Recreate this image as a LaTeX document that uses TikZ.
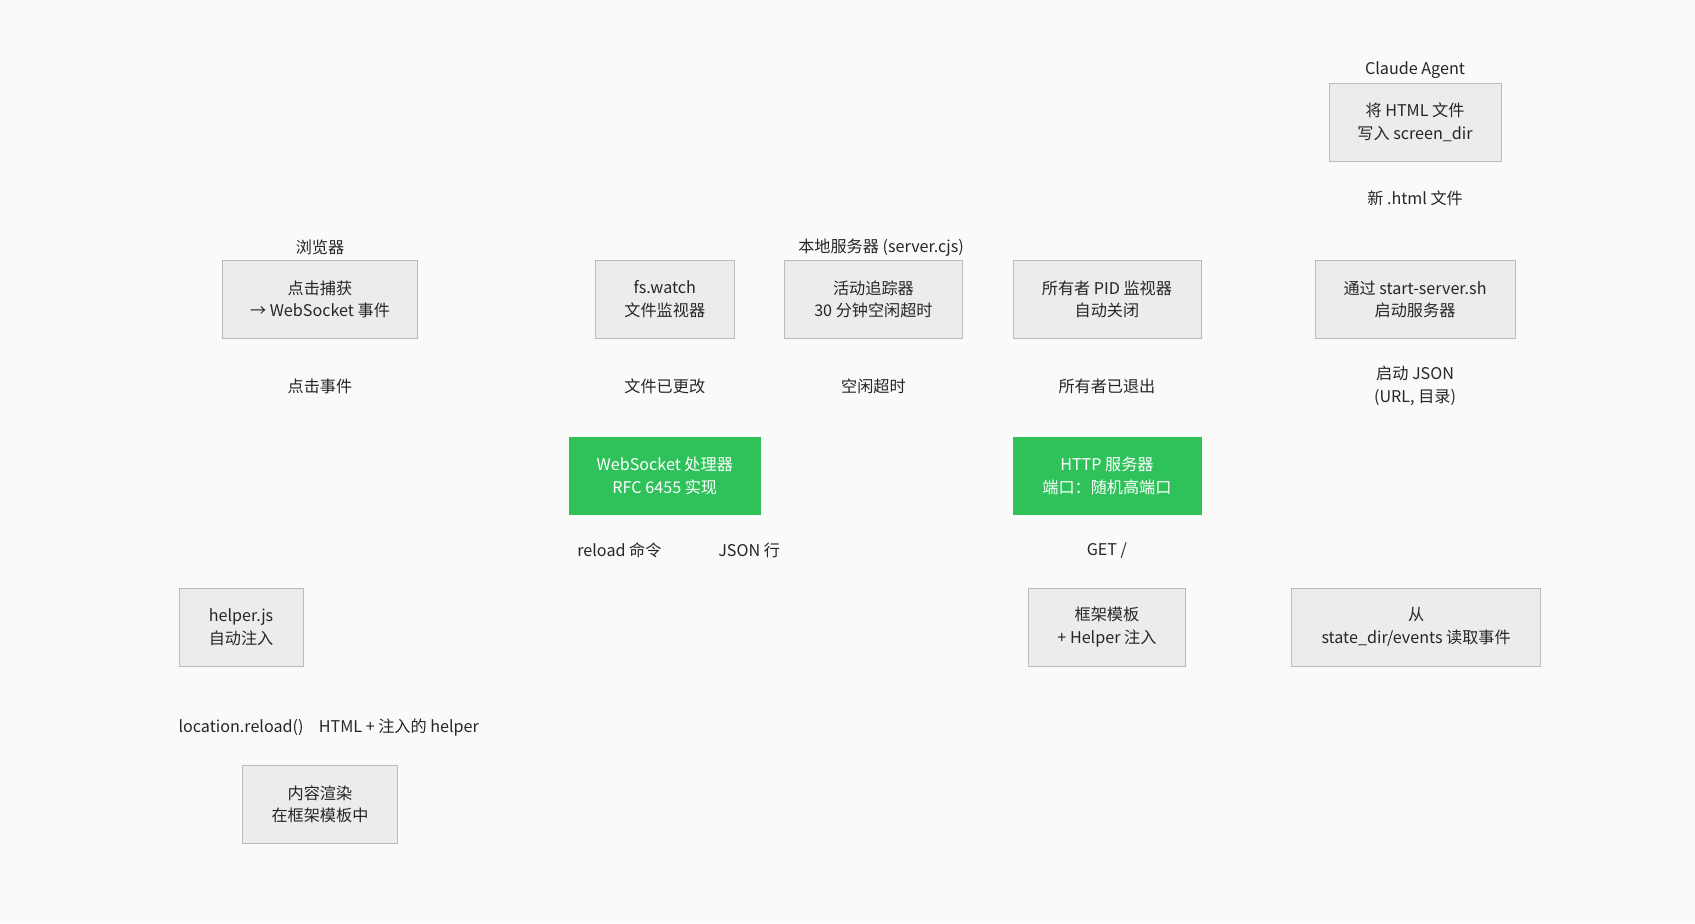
\documentclass[tikz,border=0pt]{standalone}
\usepackage{fontspec}
\setmainfont{Noto Sans CJK SC}
\usetikzlibrary{arrows.meta}
\pgfdeclarelayer{bg}\pgfdeclarelayer{edges}
\pgfsetlayers{bg,edges,main}
\definecolor{bgc}{HTML}{FAFAF8}
\definecolor{nfill}{HTML}{ECECEC}
\definecolor{nline}{HTML}{BBBBBB}
\definecolor{cline}{HTML}{AAAAAA}
\definecolor{grn}{HTML}{2FC25B}
\definecolor{ecol}{HTML}{707070}
\tikzset{
 x=0.02cm,y=-0.02cm,
 every node/.style={font=\fontsize{8.5}{12}\selectfont, text=black!85, align=center},
 box/.style={draw=nline, fill=nfill, minimum height=1.44cm, inner sep=0pt},
 gbox/.style={draw=grn, fill=grn, text=white, minimum height=1.42cm, inner sep=0pt},
 clus/.style={draw=cline, fill=bgc, line width=0.8pt},
 edge/.style={draw=ecol, line width=0.6pt, -{Latex[length=5pt,width=4pt]}},
 dedge/.style={edge, dotted},
 elab/.style={fill=bgc, inner sep=1.5pt},
}
\begin{document}
\begin{tikzpicture}
\fill[bgc] (0,0) rectangle (1568,854);
\useasboundingbox (0,0) rectangle (1568,854);
\begin{pgfonlayer}{bg}
\draw[clus] (126,218) rectangle (467,803);
\draw[clus] (485,218) rectangle (1144,640);
\draw[clus] (1162,54) rectangle (1457,640);
\end{pgfonlayer}
\node (tb) at (296,229) {浏览器};
\node (ts) at (815,229) {本地服务器 (server.cjs)};
\node (ta) at (1309,65) {Claude Agent};

\node[box, minimum width=3.62cm] (click) at (296,277) {点击捕获\\→ WebSocket 事件};
\node[box, minimum width=2.58cm] (fsw) at (615,277) {fs.watch\\文件监视器};
\node[box, minimum width=3.3cm] (act) at (808,277) {活动追踪器\\30 分钟空闲超时};
\node[box, minimum width=3.48cm] (own) at (1024,277) {所有者 PID 监视器\\自动关闭};
\node[box, minimum width=3.7cm] (start) at (1309,277) {通过 start-server.sh\\启动服务器};
\node[box, minimum width=3.18cm] (write) at (1309,113) {将 HTML 文件\\写入 screen\_dir};
\node[gbox, minimum width=3.52cm] (ws) at (615,440) {WebSocket 处理器\\RFC 6455 实现};
\node[gbox, minimum width=3.48cm] (http) at (1024,440) {HTTP 服务器\\端口：随机高端口};
\node[box, minimum width=2.3cm] (helper) at (223,580) {helper.js\\自动注入};
\node[box, minimum width=2.92cm] (frame) at (1024,580) {框架模板\\+ Helper 注入};
\node[box, minimum width=4.6cm] (read) at (1310,580) {从\\state\_dir/events 读取事件};
\node[box, minimum width=2.88cm] (render) at (296,744) {内容渲染\\在框架模板中};

\node[elab] (l1) at (1309,183) {新 .html 文件};
\node[elab] (l2) at (296,357) {点击事件};
\node[elab] (l3) at (615,357) {文件已更改};
\node[elab] (l4) at (808,357) {空闲超时};
\node[elab] (l5) at (1024,357) {所有者已退出};
\node[elab] (l6) at (1309,357) {启动 JSON\\(URL, 目录)};
\node[elab] (l7) at (573,509) {reload 命令};
\node[elab] (l8) at (693,509) {JSON 行};
\node[elab] (l9) at (1024,509) {GET /};
\node[elab] (l10) at (223,673) {location.reload()};
\node[elab] (l11) at (369,673) {HTML + 注入的 helper};

\begin{pgfonlayer}{edges}
\draw[edge] (write.south) -- (l1.north) (l1.south) .. controls (1300,215) and (1100,230) .. (891,252) -- (fsw.east |- 0,270);
\draw[edge] (click.south) .. controls (296,340) and (300,350) .. (l2.east) -- (ws.west |- 0,417);
\draw[edge] (fsw.south) -- (l3) -- (ws.north);
\draw[dedge] (act.south) .. controls (808,340) and (815,350) .. (l4.east) -- (ws.west -| http.west) ++(0,-33);
\draw[dedge] (own.south) -- (l5) -- (http.north);
\draw[edge] (start.south) .. controls (1309,340) and (1290,360) .. (l6.west) -- (1111,414);
\draw[edge] (595,475) .. controls (590,495) and (560,505) .. (l7.west) -- (280,568);
\draw[edge] (655,475) .. controls (665,495) and (690,505) .. (l8.east) -- (1195,567);
\draw[edge] (http.south) -- (l9) -- (frame.north);
\draw[edge] (helper.south) .. controls (223,640) and (223,660) .. (l10.south) -- (258,708);
\draw[edge] (frame.south) .. controls (1024,635) and (900,640) .. (l11.east) (l11.south) -- (335,708);
\end{pgfonlayer}
\end{tikzpicture}
\end{document}
